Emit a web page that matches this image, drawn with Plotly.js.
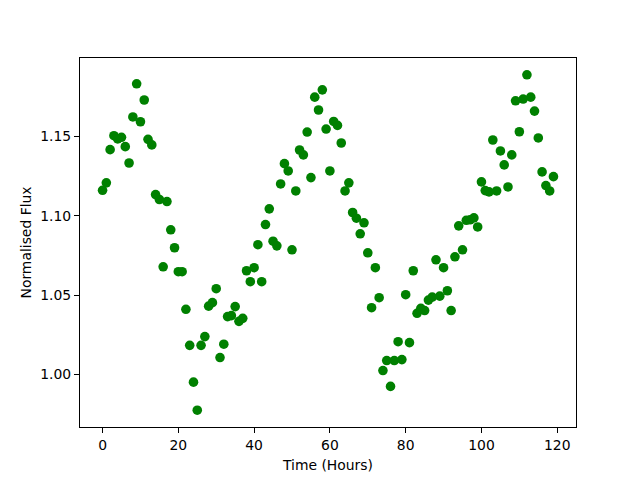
<!DOCTYPE html>
<html>
<head>
<meta charset="utf-8">
<script src="https://cdn.plot.ly/plotly-3.0.1.min.js"></script>
<style>html,body{margin:0;padding:0;background:#fff;}#chart{width:640px;height:480px;}</style>
</head>
<body>
<div id="chart"></div>
<script>
// Time in hours (0..119)
const hours = [
  0,1,2,3,4,5,6,7,8,9,10,11,12,13,14,15,16,17,18,19,
  20,21,22,23,24,25,26,27,28,29,30,31,32,33,34,35,36,37,38,39,
  40,41,42,43,44,45,46,47,48,49,50,51,52,53,54,55,56,57,58,59,
  60,61,62,63,64,65,66,67,68,69,70,71,72,73,74,75,76,77,78,79,
  80,81,82,83,84,85,86,87,88,89,90,91,92,93,94,95,96,97,98,99,
  100,101,102,103,104,105,106,107,108,109,110,111,112,113,114,115,116,117,118,119
];
// Normalised flux values
const flux = [
  1.1161,1.1208,1.1417,1.1505,1.1485,1.1495,1.1436,1.1333,1.1623,1.1832,
  1.1593,1.1730,1.1482,1.1447,1.1134,1.1103,1.0679,1.1090,1.0912,1.0799,
  1.0648,1.0648,1.0411,1.0184,0.9952,0.9775,1.0184,1.0239,1.0431,1.0453,
  1.0541,1.0107,1.0191,1.0365,1.0371,1.0428,1.0335,1.0354,1.0654,1.0585,
  1.0673,1.0818,1.0585,1.0945,1.1044,1.0840,1.0811,1.1201,1.1329,1.1283,
  1.0786,1.1157,1.1415,1.1384,1.1528,1.1241,1.1748,1.1667,1.1794,1.1547,
  1.1283,1.1595,1.1570,1.1459,1.1157,1.1208,1.1021,1.0985,1.0887,1.0956,
  1.0767,1.0421,1.0673,1.0484,1.0025,1.0088,0.9925,1.0088,1.0207,1.0094,
  1.0503,1.0201,1.0654,1.0386,1.0417,1.0403,1.0469,1.0488,1.0723,1.0494,
  1.0673,1.0528,1.0403,1.0742,1.0937,1.0786,1.0972,1.0975,1.0987,1.0930,
  1.1214,1.1159,1.1151,1.1478,1.1157,1.1409,1.1321,1.1182,1.1384,1.1725,
  1.1530,1.1736,1.1889,1.1748,1.1660,1.1491,1.1277,1.1191,1.1157,1.1247
];
const xTicks = [0, 20, 40, 60, 80, 100, 120];
const yTicks = [1.00, 1.05, 1.10, 1.15];

function padded(arr) {
  const mn = Math.min(...arr), mx = Math.max(...arr);
  const m = (mx - mn) * 0.05;
  return [mn - m, mx + m];
}

const font = {family: 'DejaVu Sans, sans-serif', size: 13.9, color: '#000'};

const trace = {
  x: hours, y: flux, type: 'scatter', mode: 'markers',
  marker: {color: '#008000', size: 9.6, line: {width: 0}},
  hoverinfo: 'skip'
};

const axisCommon = {
  showgrid: false, zeroline: false, showline: true, mirror: true,
  linecolor: '#000', linewidth: 1.1, ticks: 'outside', ticklen: 5,
  tickwidth: 1.1, tickcolor: '#000', tickfont: font
};

const layout = {
  width: 640, height: 480,
  margin: {l: 80, r: 64, t: 58, b: 53, pad: 0},
  paper_bgcolor: '#fff', plot_bgcolor: '#fff',
  showlegend: false,
  font: font,
  xaxis: Object.assign({}, axisCommon, {
    range: padded(hours), tickvals: xTicks, ticktext: xTicks.map(String),
    title: {text: 'Time (Hours)', font: font, standoff: 8}
  }),
  yaxis: Object.assign({}, axisCommon, {
    range: padded(flux), tickvals: yTicks, ticktext: yTicks.map(v => v.toFixed(2)),
    title: {text: 'Normalised Flux', font: font, standoff: 5}
  })
};

Plotly.newPlot('chart', [trace], layout, {displayModeBar: false, staticPlot: true});
</script>
</body>
</html>
